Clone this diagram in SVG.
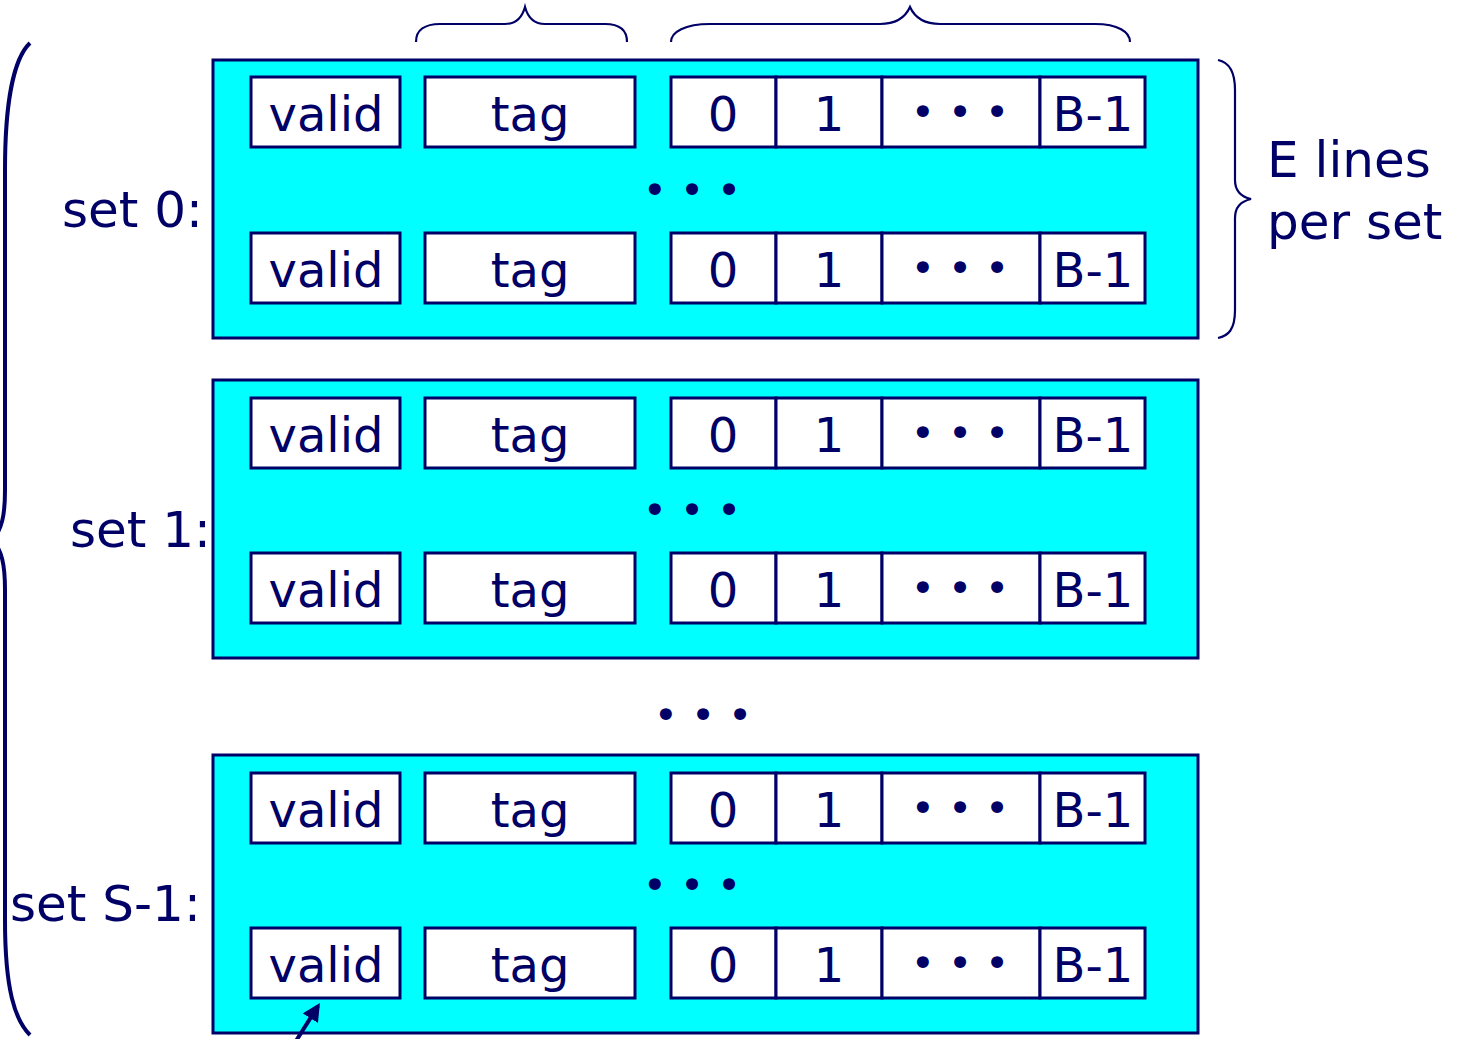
<svg xmlns="http://www.w3.org/2000/svg" width="1458" height="1039" viewBox="0 0 1458 1039">
<style>
.set{fill:#00ffff;stroke:#000066;stroke-width:3}
.cell{fill:#ffffff;stroke:#000066;stroke-width:3}
.t{font-family:"DejaVu Sans",sans-serif;font-size:48px;fill:#000066;text-anchor:middle}
.lbl{font-family:"DejaVu Sans",sans-serif;font-size:50px;fill:#000066}
.dots{font-family:"DejaVu Sans",sans-serif;font-size:41px;fill:#000066;text-anchor:middle}
.br{fill:none;stroke:#000066;stroke-width:2.2}
</style>
<defs>
<marker id="ah" viewBox="0 0 10 10" refX="8" refY="5" markerWidth="4.5" markerHeight="4.5" orient="auto" markerUnits="strokeWidth">
<path d="M0,0 L10,5 L0,10 z" fill="#000066"/>
</marker>
<g id="line">
<rect class="cell" x="251" y="0" width="149" height="70"/>
<rect class="cell" x="425" y="0" width="210" height="70"/>
<rect class="cell" x="671" y="0" width="105" height="70"/>
<rect class="cell" x="776" y="0" width="106" height="70"/>
<rect class="cell" x="882" y="0" width="158" height="70"/>
<rect class="cell" x="1040" y="0" width="105" height="70"/>
<text class="t" x="326" y="54">valid</text>
<text class="t" x="530" y="54">tag</text>
<text class="t" x="723" y="54">0</text>
<text class="t" x="829" y="54">1</text>
<text class="dots" x="960" y="49">• • •</text>
<text class="t" x="1093" y="54">B-1</text>
</g>
</defs>
<g id="set0">
<rect class="set" x="213" y="60" width="985" height="278"/>
<use href="#line" x="0" y="77"/>
<text class="dots" x="692" y="204">• • •</text>
<use href="#line" x="0" y="233"/>
</g>
<g id="set1">
<rect class="set" x="213" y="380" width="985" height="278"/>
<use href="#line" x="0" y="398"/>
<text class="dots" x="692" y="524">• • •</text>
<use href="#line" x="0" y="553"/>
</g>
<text class="dots" x="703" y="729">• • •</text>
<g id="setS1">
<rect class="set" x="213" y="755" width="985" height="278"/>
<use href="#line" x="0" y="773"/>
<text class="dots" x="692" y="899">• • •</text>
<use href="#line" x="0" y="928"/>
</g>
<g id="labels">
<text class="lbl" x="62" y="227">set 0:</text>
<text class="lbl" x="70" y="547">set 1:</text>
<text class="lbl" x="10" y="921">set S-1:</text>
<text class="lbl" x="1267" y="177">E lines</text>
<text class="lbl" x="1267" y="239">per set</text>
</g>
<g id="connectors">
<path class="br" d="M416,42 C416,30 425,24 440,24 L505,24 C515,24 522,18 525,7 C528,18 535,24 545,24 L605,24 C620,24 627,30 627,42"/>
<path class="br" d="M671,42 C671,32 685,24 710,24 L880,24 C895,24 905,18 910,7 C915,18 925,24 940,24 L1095,24 C1118,24 1130,32 1130,42"/>
<path class="br" d="M1218,60 C1228,62 1235,70 1235,90 L1235,180 C1235,192 1242,197 1251,199 C1242,201 1235,206 1235,218 L1235,310 C1235,330 1228,336 1218,338"/>
<path class="br" style="stroke-width:4" d="M30,43 C12,60 5,110 5,170 L5,490 C5,515 2,530 -8,540 C2,550 5,565 5,590 L5,920 C5,990 15,1020 30,1035"/>
<line x1="296" y1="1041" x2="318" y2="1006" stroke="#000066" stroke-width="4" marker-end="url(#ah)"/>
</g>
</svg>
